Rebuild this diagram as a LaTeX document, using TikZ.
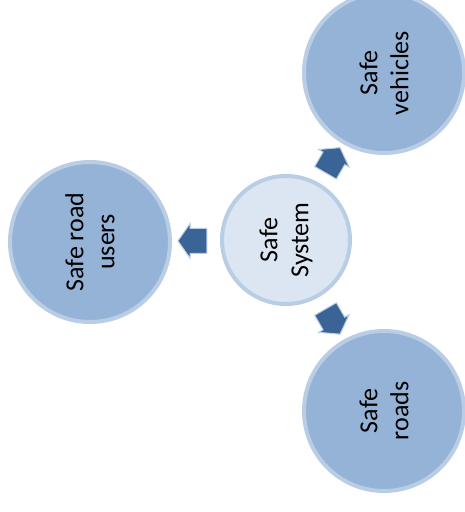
\documentclass[tikz,border=0pt]{standalone}
\usepackage{fontspec}
\setmainfont{Carlito}
\usepackage{xcolor}
\usetikzlibrary{positioning,calc,shapes.arrows}

\definecolor{hubfill}{HTML}{DCE6F2}
\definecolor{satfill}{HTML}{95B3D7}
\definecolor{ringedge}{HTML}{B9CDE5}
\definecolor{arrowfill}{HTML}{3A6496}

\begin{document}
\begin{tikzpicture}[x=1pt, y=1pt, font=\fontsize{26}{31}\selectfont,
	hub/.style={circle, draw=ringedge, line width=4pt, fill=hubfill, minimum size=128pt, inner sep=0pt, align=center},
	sat/.style={circle, draw=ringedge, line width=4pt, fill=satfill, minimum size=160pt, inner sep=0pt, align=center},
	pointer/.style={single arrow, draw=ringedge, line width=1pt, fill=arrowfill, minimum height=29pt, inner xsep=0pt, inner ysep=12pt, single arrow head extend=5pt, single arrow tip angle=110}]
		\useasboundingbox (0,0) rectangle (465,512);
		\clip (0,0) rectangle (465,512);
		\node[hub, rotate=90] (sys) at (286,272) {Safe\\System};
		\node[sat, rotate=90] (users) at (90,270) {Safe road\\users};
		\node[sat, rotate=90] (vehicles) at (384,439) {Safe\\vehicles};
		\node[sat, rotate=90] (roads) at (384,101) {Safe\\roads};
		\node[pointer, rotate=180] (toUsers) at ($(sys)!0.455!(users)$) {};
		\node[pointer, rotate=60] (toVehicles) at ($(sys)!0.455!(vehicles)$) {};
		\node[pointer, rotate=-60] (toRoads) at ($(sys)!0.455!(roads)$) {};
	\end{tikzpicture}
\end{document}
